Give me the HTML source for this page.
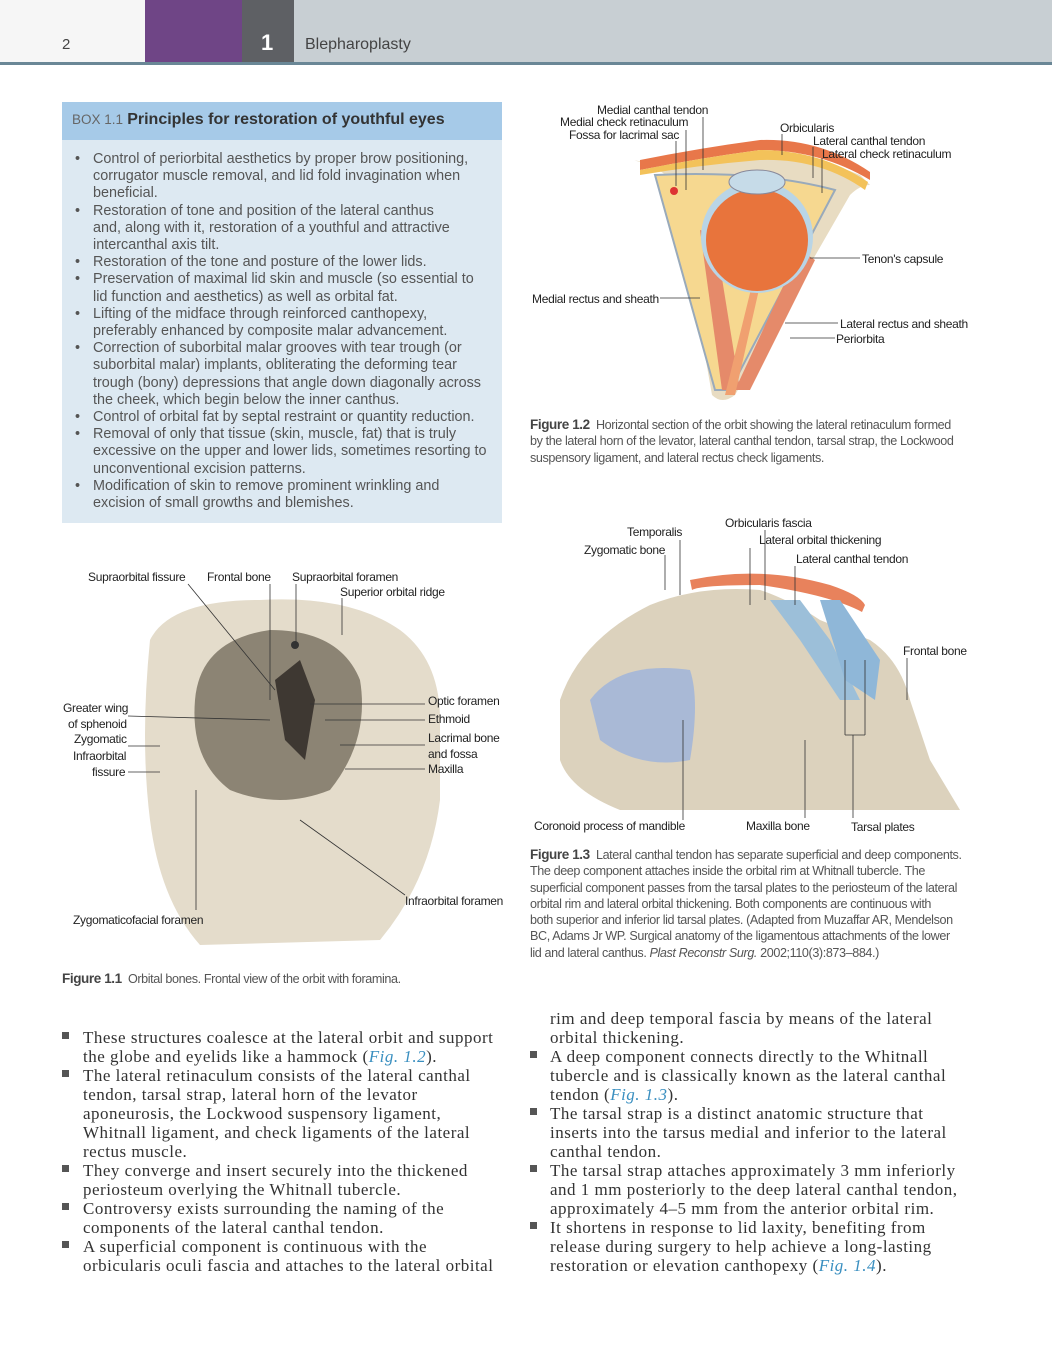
<!DOCTYPE html>
<html><head><meta charset="utf-8"><style>
*{margin:0;padding:0;box-sizing:border-box}
body{width:1052px;height:1346px;background:#fff;position:relative;overflow:hidden;font-family:"Liberation Sans",sans-serif;color:#333}
.a{position:absolute;white-space:nowrap}
.lab{position:absolute;white-space:nowrap;font-size:12px;color:#222;letter-spacing:-0.3px}
.box{position:absolute;left:62px;top:102px;width:440px;height:421px;background:#dde9f2}
.boxh{position:absolute;left:62px;top:102px;width:440px;height:38px;background:#a6cae8}
.bl{position:absolute;font-size:14.4px;color:#555;line-height:17.2px;white-space:nowrap;letter-spacing:0px}
.cap{position:absolute;font-size:12.6px;color:#555;line-height:16.3px;white-space:nowrap;letter-spacing:-0.4px}
.cap b{color:#444;font-size:13.5px}
.bt{position:absolute;font-family:"Liberation Serif",serif;font-size:17px;letter-spacing:0.5px;line-height:19px;color:#333;white-space:nowrap}
.sq{position:absolute;width:7px;height:7px;background:#555}
i.c{color:#3a8fc0}
</style></head><body>
<div class="a" style="left:0;top:0;width:145px;height:62px;background:#f6f6f6"></div>
<div class="a" style="left:145px;top:0;width:97px;height:62px;background:#6f4586"></div>
<div class="a" style="left:242px;top:0;width:52px;height:62px;background:#5e6064"></div>
<div class="a" style="left:294px;top:0;width:758px;height:62px;background:#c8cfd3"></div>
<div class="a" style="left:0;top:62px;width:1052px;height:3px;background:#6a8796"></div>
<div class="a" style="left:62px;top:36px;font-size:15px;color:#444">2</div>
<div class="a" style="left:261px;top:30px;font-size:22px;font-weight:bold;color:#fff">1</div>
<div class="a" style="left:305px;top:36px;font-size:16px;color:#444">Blepharoplasty</div>

<div class="box"></div><div class="boxh"></div>
<div class="a" style="left:72px;top:111px;font-size:15px;color:#444"><span style="font-size:13.5px;color:#666">BOX 1.1</span> <b style="font-size:16px;color:#333">Principles for restoration of youthful eyes</b></div>
<div class="bl" style="left:75px;top:151px">•<br><br><br>•<br><br><br>•<br>•<br><br>•<br><br>•<br><br><br><br>•<br>•<br><br><br>•</div>
<div class="bl" style="left:93px;top:151px">Control of periorbital aesthetics by proper brow positioning,<br>corrugator muscle removal, and lid fold invagination when<br>beneficial.<br>Restoration of tone and position of the lateral canthus<br>and, along with it, restoration of a youthful and attractive<br>intercanthal axis tilt.<br>Restoration of the tone and posture of the lower lids.<br>Preservation of maximal lid skin and muscle (so essential to<br>lid function and aesthetics) as well as orbital fat.<br>Lifting of the midface through reinforced canthopexy,<br>preferably enhanced by composite malar advancement.<br>Correction of suborbital malar grooves with tear trough (or<br>suborbital malar) implants, obliterating the deforming tear<br>trough (bony) depressions that angle down diagonally across<br>the cheek, which begin below the inner canthus.<br>Control of orbital fat by septal restraint or quantity reduction.<br>Removal of only that tissue (skin, muscle, fat) that is truly<br>excessive on the upper and lower lids, sometimes resorting to<br>unconventional excision patterns.<br>Modification of skin to remove prominent wrinkling and<br>excision of small growths and blemishes.</div>

<svg class="a" style="left:0;top:0" width="1052" height="1346">
<g>
<path d="M632,160 Q660,165 675,185 L712,395 Q722,405 735,395 L850,195 Q860,185 870,185 L860,175 Q800,150 740,160 Q690,170 632,160Z" fill="#e8dcc2"/>
<path d="M655,175 L715,390 L730,390 L835,190 Q760,170 655,175Z" fill="#f6d890" stroke="#9ab" stroke-width="2"/>
<path d="M640,170 Q700,158 760,150 Q820,150 870,180 L870,172 Q820,138 760,140 Q700,148 640,160Z" fill="#e8774a"/>
<path d="M640,175 Q700,165 760,160 Q820,158 865,190 L868,182 Q820,150 760,150 Q700,158 640,170Z" fill="#f3c25a"/>
<path d="M700,230 L722,390 L740,390 L715,235Z" fill="#e58a6a"/>
<path d="M800,250 L735,390 L750,390 L815,260Z" fill="#e58a6a"/>
<path d="M752,285 L725,395 L735,395 L760,285Z" fill="#f0a070"/>
<circle cx="757" cy="237" r="56" fill="#b9d5e6"/>
<circle cx="757" cy="240" r="51" fill="#e8743c"/>
<ellipse cx="757" cy="182" rx="28" ry="12" fill="#c6dbe8" stroke="#889" />
<circle cx="674" cy="191" r="4" fill="#d33"/>
</g>
<g stroke="#333" stroke-width="0.8" fill="none">
<line x1="703" y1="117" x2="703" y2="170"/><line x1="686" y1="130" x2="686" y2="190"/><line x1="676" y1="141" x2="676" y2="186"/>
<line x1="782" y1="134" x2="782" y2="155"/><line x1="813" y1="147" x2="813" y2="178"/><line x1="822" y1="158" x2="822" y2="193"/>
<line x1="810" y1="258" x2="860" y2="258"/><line x1="660" y1="298" x2="700" y2="298"/>
<line x1="785" y1="323" x2="838" y2="323"/><line x1="790" y1="338" x2="835" y2="338"/>
</g>
<path d="M560,700 Q580,640 650,605 Q700,585 760,590 Q790,600 820,620 L870,640 Q900,660 910,700 L930,760 L960,810 L620,810 Q570,790 560,760Z" fill="#dcd2bd"/>
<path d="M590,700 Q620,660 690,670 Q700,700 690,760 Q640,770 600,740Z" fill="#a9b9d6"/>
<path d="M690,580 Q760,565 830,585 Q860,595 865,605 L862,612 Q830,595 760,585 Q700,585 692,590Z" fill="#e8825c"/>
<path d="M770,600 L800,640 L840,700 L860,700 L830,640 L800,600Z" fill="#9cbfd9"/>
<path d="M820,600 L845,680 L875,700 L880,660 L840,600Z" fill="#8fb7d8"/>
<path d="M150,640 Q170,600 260,600 Q350,595 400,630 Q440,660 440,720 L440,800 Q430,880 380,940 L200,945 Q160,900 150,820 Q140,740 150,640Z" fill="#e4dccb"/>
<path d="M195,700 Q200,640 270,630 Q340,630 360,680 Q370,740 330,790 Q280,810 230,790 Q190,760 195,700Z" fill="#8c8474"/>
<path d="M275,680 L300,660 L315,700 L305,760 L285,740Z" fill="#3e3832"/>
<circle cx="295" cy="645" r="4" fill="#333"/>
<g stroke="#333" stroke-width="0.8" fill="none">
<line x1="188" y1="584" x2="275" y2="690"/><line x1="270" y1="584" x2="270" y2="700"/><line x1="296" y1="584" x2="296" y2="645"/><line x1="342" y1="598" x2="342" y2="635"/>
<line x1="128" y1="716" x2="270" y2="720"/><line x1="128" y1="746" x2="160" y2="746"/><line x1="128" y1="772" x2="160" y2="772"/>
<line x1="310" y1="704" x2="425" y2="704"/><line x1="325" y1="720" x2="425" y2="720"/><line x1="340" y1="745" x2="425" y2="745"/><line x1="345" y1="769" x2="425" y2="769"/>
<line x1="300" y1="820" x2="405" y2="895"/><line x1="196" y1="790" x2="196" y2="910"/>
<line x1="680" y1="540" x2="680" y2="595"/><line x1="665" y1="555" x2="665" y2="590"/><line x1="765" y1="530" x2="765" y2="600"/><line x1="750" y1="548" x2="750" y2="605"/><line x1="795" y1="566" x2="795" y2="605"/>
<line x1="907" y1="658" x2="907" y2="700"/><line x1="683" y1="720" x2="683" y2="820"/><line x1="805" y1="740" x2="805" y2="818"/>
<line x1="845" y1="660" x2="845" y2="735"/><line x1="865" y1="660" x2="865" y2="735"/><line x1="845" y1="735" x2="865" y2="735"/><line x1="853" y1="735" x2="853" y2="818"/>
</g>
</svg>
<div class="lab" style="left:597px;top:103px">Medial canthal tendon</div>
<div class="lab" style="left:560px;top:115px">Medial check retinaculum</div>
<div class="lab" style="left:569px;top:128px">Fossa for lacrimal sac</div>
<div class="lab" style="left:780px;top:121px">Orbicularis</div>
<div class="lab" style="left:813px;top:134px">Lateral canthal tendon</div>
<div class="lab" style="left:822px;top:147px">Lateral check retinaculum</div>
<div class="lab" style="left:862px;top:252px">Tenon's capsule</div>
<div class="lab" style="left:532px;top:292px">Medial rectus and sheath</div>
<div class="lab" style="left:840px;top:317px">Lateral rectus and sheath</div>
<div class="lab" style="left:836px;top:332px">Periorbita</div>
<div class="cap" style="left:530px;top:417px"><b>Figure 1.2</b>&nbsp; Horizontal section of the orbit showing the lateral retinaculum formed<br>by the lateral horn of the levator, lateral canthal tendon, tarsal strap, the Lockwood<br>suspensory ligament, and lateral rectus check ligaments.</div>

<div class="lab" style="left:725px;top:516px">Orbicularis fascia</div>
<div class="lab" style="left:627px;top:525px">Temporalis</div>
<div class="lab" style="left:759px;top:533px">Lateral orbital thickening</div>
<div class="lab" style="left:584px;top:543px">Zygomatic bone</div>
<div class="lab" style="left:796px;top:552px">Lateral canthal tendon</div>
<div class="lab" style="left:903px;top:644px">Frontal bone</div>
<div class="lab" style="left:534px;top:819px">Coronoid process of mandible</div>
<div class="lab" style="left:746px;top:819px">Maxilla bone</div>
<div class="lab" style="left:851px;top:820px">Tarsal plates</div>
<div class="cap" style="left:530px;top:847px"><b>Figure 1.3</b>&nbsp; Lateral canthal tendon has separate superficial and deep components.<br>The deep component attaches inside the orbital rim at Whitnall tubercle. The<br>superficial component passes from the tarsal plates to the periosteum of the lateral<br>orbital rim and lateral orbital thickening. Both components are continuous with<br>both superior and inferior lid tarsal plates. (Adapted from Muzaffar AR, Mendelson<br>BC, Adams Jr WP. Surgical anatomy of the ligamentous attachments of the lower<br>lid and lateral canthus. <i>Plast Reconstr Surg.</i> 2002;110(3):873–884.)</div>

<div class="lab" style="left:88px;top:570px">Supraorbital fissure</div>
<div class="lab" style="left:207px;top:570px">Frontal bone</div>
<div class="lab" style="left:292px;top:570px">Supraorbital foramen</div>
<div class="lab" style="left:340px;top:585px">Superior orbital ridge</div>
<div class="lab" style="left:63px;top:701px">Greater wing</div>
<div class="lab" style="left:68px;top:717px">of sphenoid</div>
<div class="lab" style="left:74px;top:732px">Zygomatic</div>
<div class="lab" style="left:73px;top:749px">Infraorbital</div>
<div class="lab" style="left:92px;top:765px">fissure</div>
<div class="lab" style="left:428px;top:694px">Optic foramen</div>
<div class="lab" style="left:428px;top:712px">Ethmoid</div>
<div class="lab" style="left:428px;top:731px">Lacrimal bone</div>
<div class="lab" style="left:428px;top:747px">and fossa</div>
<div class="lab" style="left:428px;top:762px">Maxilla</div>
<div class="lab" style="left:405px;top:894px">Infraorbital foramen</div>
<div class="lab" style="left:73px;top:913px">Zygomaticofacial foramen</div>
<div class="cap" style="left:62px;top:971px"><b>Figure 1.1</b>&nbsp; Orbital bones. Frontal view of the orbit with foramina.</div>

<div class="sq" style="left:62px;top:1032px"></div><div class="sq" style="left:62px;top:1070px"></div><div class="sq" style="left:62px;top:1165px"></div><div class="sq" style="left:62px;top:1203px"></div><div class="sq" style="left:62px;top:1241px"></div>
<div class="bt" style="left:83px;top:1028px">These structures coalesce at the lateral orbit and support<br>the globe and eyelids like a hammock (<i class="c">Fig. 1.2</i>).<br>The lateral retinaculum consists of the lateral canthal<br>tendon, tarsal strap, lateral horn of the levator<br>aponeurosis, the Lockwood suspensory ligament,<br>Whitnall ligament, and check ligaments of the lateral<br>rectus muscle.<br>They converge and insert securely into the thickened<br>periosteum overlying the Whitnall tubercle.<br>Controversy exists surrounding the naming of the<br>components of the lateral canthal tendon.<br>A superficial component is continuous with the<br>orbicularis oculi fascia and attaches to the lateral orbital</div>
<div class="sq" style="left:530px;top:1051px"></div><div class="sq" style="left:530px;top:1108px"></div><div class="sq" style="left:530px;top:1165px"></div><div class="sq" style="left:530px;top:1222px"></div>
<div class="bt" style="left:550px;top:1009px">rim and deep temporal fascia by means of the lateral<br>orbital thickening.<br>A deep component connects directly to the Whitnall<br>tubercle and is classically known as the lateral canthal<br>tendon (<i class="c">Fig. 1.3</i>).<br>The tarsal strap is a distinct anatomic structure that<br>inserts into the tarsus medial and inferior to the lateral<br>canthal tendon.<br>The tarsal strap attaches approximately 3 mm inferiorly<br>and 1 mm posteriorly to the deep lateral canthal tendon,<br>approximately 4–5 mm from the anterior orbital rim.<br>It shortens in response to lid laxity, benefiting from<br>release during surgery to help achieve a long-lasting<br>restoration or elevation canthopexy (<i class="c">Fig. 1.4</i>).</div>
</body></html>
